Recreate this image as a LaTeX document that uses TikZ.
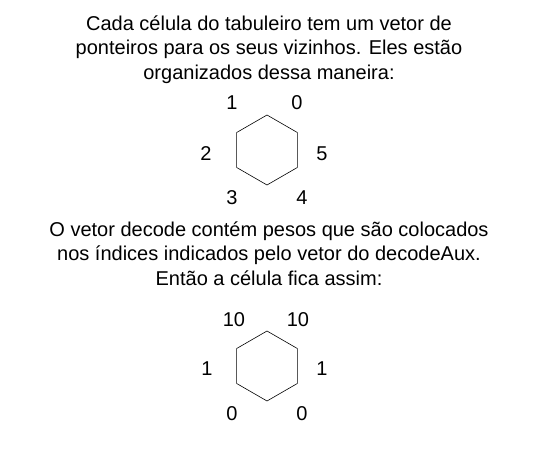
\documentclass[tikz,border=0pt]{standalone}
\usepackage{fontspec}
\setmainfont{Liberation Sans}
\begin{document}
\begin{tikzpicture}[x=1pt,y=-1pt,line join=round,line cap=round,font=\fontsize{20}{24.5}\selectfont,
	txt/.style={align=center,inner sep=0pt,anchor=base},
	lbl/.style={inner sep=0pt}]
		\useasboundingbox (0,0) rectangle (542,452);
		\node[txt] (intro) at (269,79.5) {Cada célula do tabuleiro tem um vetor de\\ponteiros para os seus vizinhos. Eles estão\\organizados dessa maneira:};
		\node[txt] (decode) at (269,285) {O vetor decode contém pesos que são colocados\\nos índices indicados pelo vetor do decodeAux.\\Então a célula fica assim:};
		\path (267,150)coordinate (H)
		(267,366)coordinate (W);
		\foreach \c in {H,W}{
			\draw[line width=.6pt] (\c)+(90:35)--+(150:35)--+(210:35)--+(270:35)--+(330:35)--+(30:35)--cycle;
			}
		\foreach \t/\dx/\dy [count=\i] in {1/-35/-47,0/30/-47,2/-61/4,5/55/4,3/-35/48,4/35/48}{
			\node[lbl] (h\i) at ([shift={(\dx,\dy)}]H) {\t};
			}
		\foreach \t/\dx/\dy [count=\i] in {10/-33/-46,10/31/-46,1/-60/3,1/55/3,0/-35/48,0/35/48}{
			\node[lbl] (w\i) at ([shift={(\dx,\dy)}]W) {\t};
			}
		\end{tikzpicture}
\end{document}
